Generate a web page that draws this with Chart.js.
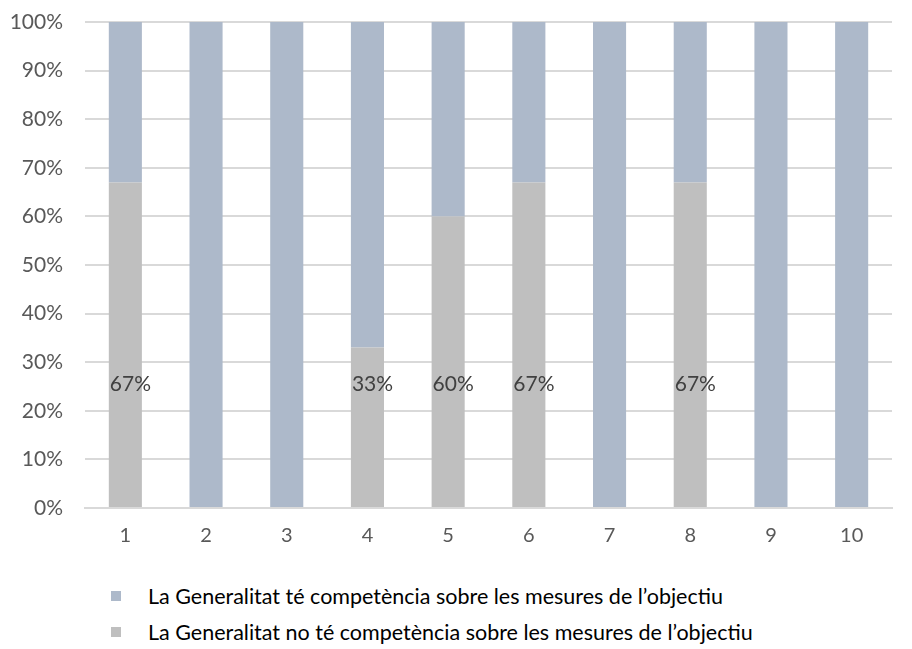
<!DOCTYPE html>
<html>
<head>
<meta charset="utf-8">
<script src="https://cdn.jsdelivr.net/npm/chart.js@4"></script>
<style>
  body { margin: 0; background: #fff; font-family: Lato, "Open Sans", sans-serif; }
  #wrap { position: relative; width: 912px; height: 560px; }
  #legend { position: absolute; left: 111px; top: 578px; font-size: 21.5px; color: #000; }
  #legend div { height: 36px; display: flex; align-items: center; }
  #legend span.box { display: inline-block; width: 10px; height: 10px; margin-right: 27px; }
</style>
</head>
<body>
<div id="wrap"><canvas id="chart"></canvas></div>
<div id="legend"></div>
<script>
// categories and values (percent)
const categories = ["1", "2", "3", "4", "5", "6", "7", "8", "9", "10"];
const noTe = [67, 0, 0, 33, 60, 67, 0, 67, 0, 0];
const te = [33, 100, 100, 67, 40, 33, 100, 33, 100, 100];
const seriesNames = [
  "La Generalitat té competència sobre les mesures de l’objectiu",
  "La Generalitat no té competència sobre les mesures de l’objectiu"
];
const colors = ["#ADB9CA", "#BFBFBF"];
const labelLevel = 25.5;

// draws the percent labels on the grey segments
const barLabels = {
  id: "barLabels",
  afterDatasetsDraw(chart) {
    const ctx = chart.ctx;
    const meta = chart.getDatasetMeta(0);
    const y = chart.scales.y.getPixelForValue(labelLevel);
    ctx.save();
    ctx.font = "21px Lato, 'Open Sans', sans-serif";
    ctx.fillStyle = "#404040";
    ctx.textAlign = "left";
    ctx.textBaseline = "middle";
    meta.data.forEach((bar, i) => {
      if (noTe[i] > 0) {
        ctx.fillText(noTe[i] + "%", bar.x - bar.width / 2 + 1, y);
      }
    });
    ctx.restore();
  }
};

new Chart(document.getElementById("chart"), {
  type: "bar",
  data: {
    labels: categories,
    datasets: [
      { label: seriesNames[1], data: noTe, backgroundColor: colors[1] },
      { label: seriesNames[0], data: te, backgroundColor: colors[0] }
    ]
  },
  options: {
    responsive: true,
    maintainAspectRatio: false,
    animation: false,
    layout: { padding: { top: 22, right: 20, left: 0, bottom: 0 } },
    plugins: { legend: { display: false }, tooltip: { enabled: false } },
    datasets: { bar: { categoryPercentage: 1, barPercentage: 0.41 } },
    scales: {
      x: {
        stacked: true,
        grid: { display: false, drawTicks: false },
        border: { color: "#D9D9D9", width: 2 },
        ticks: { color: "#595959", font: { size: 20, family: "Lato" }, padding: 16 },
        afterFit(s) { s.height = 52; }
      },
      y: {
        stacked: true,
        min: 0,
        max: 100,
        grid: { color: "#D9D9D9", lineWidth: 2, drawTicks: false },
        border: { display: false },
        ticks: {
          stepSize: 10,
          color: "#595959",
          font: { size: 21, family: "Lato" },
          padding: 22,
          callback: (v) => v + "%"
        },
        afterFit(s) {
          s.width = 85;
          s.paddingTop = 0;
          s.paddingBottom = 0;
        }
      }
    }
  },
  plugins: [barLabels]
});

// legend, blue item first like the original
const legend = document.getElementById("legend");
seriesNames.forEach((name, i) => {
  const row = document.createElement("div");
  row.innerHTML = '<span class="box" style="background:' + colors[i] + '"></span>' + name;
  legend.appendChild(row);
});
</script>
</body>
</html>
